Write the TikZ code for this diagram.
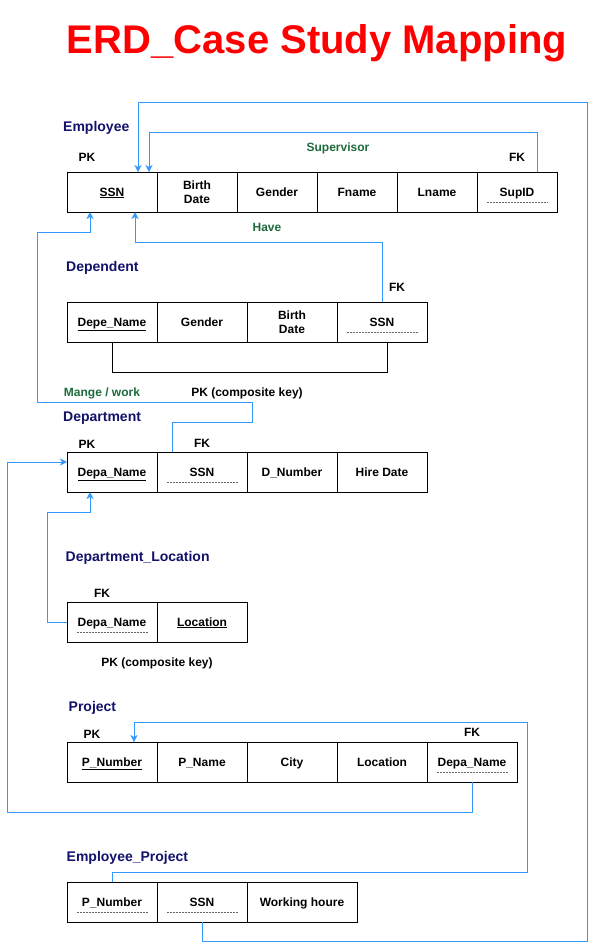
\documentclass[tikz,border=0pt]{standalone}
\usepackage{fontspec}
\setmainfont{Liberation Sans}
\usetikzlibrary{arrows.meta}
\definecolor{conblue}{HTML}{3399FF}
\definecolor{navyt}{HTML}{12126B}
\definecolor{greent}{HTML}{1E6B3C}
\definecolor{titlered}{HTML}{FF0000}
\begin{document}
\begin{tikzpicture}[x=1pt,y=-1pt,
  cellbase/.style={draw=black, line width=1pt, minimum height=40pt, minimum width=90pt,
    inner sep=0pt, outer sep=0pt, align=center, font=\fontsize{12}{14}\selectfont\bfseries},
  cell/.style={cellbase, text height=10pt, text depth=2pt},
  fkcell/.style={cell, path picture={\draw[black!60, line width=0.6pt, dash pattern=on 2pt off 1pt]
      ([xshift=10pt,yshift=10pt]path picture bounding box.south west) --
      ([xshift=-9pt,yshift=10pt]path picture bounding box.south east);}},
  tablename/.style={anchor=west, text=navyt, inner sep=0pt, text height=11.5pt, text depth=2.5pt,
    font=\fontsize{14}{16}\selectfont\bfseries},
  keylabel/.style={inner sep=0pt, text height=10pt, text depth=2pt, font=\fontsize{12}{14}\selectfont\bfseries},
  rellabel/.style={keylabel, text=greent},
  conn/.style={draw=conblue, line width=1pt, -{Stealth[length=7pt,width=7pt,inset=2pt]}},
  bracket/.style={draw=black, line width=1pt}
]
\useasboundingbox[fill=white] (0,0) rectangle (596,951);

% title
\node[anchor=base, text=titlered, inner sep=0pt, font=\fontsize{40}{48}\selectfont\bfseries] (title) at (317,53.5) {ERD\_Case Study Mapping};

% Employee
\node[tablename] (tEmp) at (63,127) {Employee};
\node[keylabel] (empPK) at (87,157) {PK};
\node[keylabel] (empFK) at (517,157) {FK};
\node[rellabel] (lSup) at (338,147) {Supervisor};
\node[cell] (emp1) at (112,192) {\underline{SSN}};
\node[cellbase, minimum width=80pt] (emp2) at (197,192) {Birth\\Date};
\node[cell, minimum width=80pt] (emp3) at (277,192) {Gender};
\node[cell, minimum width=80pt] (emp4) at (357,192) {Fname};
\node[cell, minimum width=80pt] (emp5) at (437,192) {Lname};
\node[fkcell, minimum width=80pt] (emp6) at (517,192) {SupID};

% Dependent
\node[rellabel] (lHave) at (267,227) {Have};
\node[tablename] (tDep) at (66,267) {Dependent};
\node[keylabel] (depFK) at (397,287) {FK};
\node[cell] (dep1) at (112,322) {\underline{Depe\_Name}};
\node[cell] (dep2) at (202,322) {Gender};
\node[cellbase] (dep3) at (292,322) {Birth\\Date};
\node[fkcell] (dep4) at (382,322) {SSN};
\draw[bracket] (dep1.south) -- ++(0,30) -| ([xshift=5pt]dep4.south);

% Department
\node[rellabel] (lMange) at (102,392) {Mange / work};
\node[keylabel] (depPK) at (247,392) {PK (composite key)};
\node[tablename] (tDept) at (63,417) {Department};
\node[keylabel] (deptPK) at (87,444) {PK};
\node[keylabel] (deptFK) at (202,443) {FK};
\node[cell] (dept1) at (112,472) {\underline{Depa\_Name}};
\node[fkcell] (dept2) at (202,472) {SSN};
\node[cell] (dept3) at (292,472) {D\_Number};
\node[cell] (dept4) at (382,472) {Hire Date};

% Department_Location
\node[tablename] (tDL) at (65.5,557) {Department\_Location};
\node[keylabel] (dlFK) at (102,593) {FK};
\node[fkcell] (dl1) at (112,622) {Depa\_Name};
\node[cell] (dl2) at (202,622) {\underline{Location}};
\node[keylabel] (dlPK) at (157,662) {PK (composite key)};

% Project
\node[tablename] (tProj) at (68.5,707) {Project};
\node[keylabel] (projPK) at (92,734) {PK};
\node[keylabel] (projFK) at (472,732) {FK};
\node[cell] (proj1) at (112,762) {\underline{P\_Number}};
\node[cell] (proj2) at (202,762) {P\_Name};
\node[cell] (proj3) at (292,762) {City};
\node[cell] (proj4) at (382,762) {Location};
\node[fkcell] (proj5) at (472,762) {Depa\_Name};

% Employee_Project
\node[tablename] (tEP) at (66.5,857) {Employee\_Project};
\node[fkcell] (ep1) at (112,902) {P\_Number};
\node[fkcell] (ep2) at (202,902) {SSN};
\node[cell, minimum width=110pt] (ep3) at (302,902) {Working houre};

% connectors
\draw[conn] ([xshift=20pt]emp6.north) -- ++(0,-40) -| ([xshift=37pt]emp1.north);
\draw[conn] (ep2.south) -- ++(0,19) -- ++(385,0) -- ++(0,-839) -| ([xshift=26pt]emp1.north);
\draw[conn] (dep4.north) -- ++(0,-60) -| ([xshift=23pt]emp1.south);
\draw[conn] ([xshift=-30pt]dept2.north) -- ++(0,-30) -- ++(80,0) -- ++(0,-20) -- ++(-215,0) -- ++(0,-170) -| ([xshift=-22pt]emp1.south);
\draw[conn] (proj5.south) -- ++(0,30) -- ++(-465,0) |- ([yshift=10pt]dept1.west);
\draw[conn] (dl1.west) -- ++(-20,0) -- ++(0,-110) -| ([xshift=-22pt]dept1.south);
\draw[conn] (ep1.north) -- ++(0,-10) -- ++(415,0) -- ++(0,-150) -| ([xshift=22pt]proj1.north);
\end{tikzpicture}
\end{document}
